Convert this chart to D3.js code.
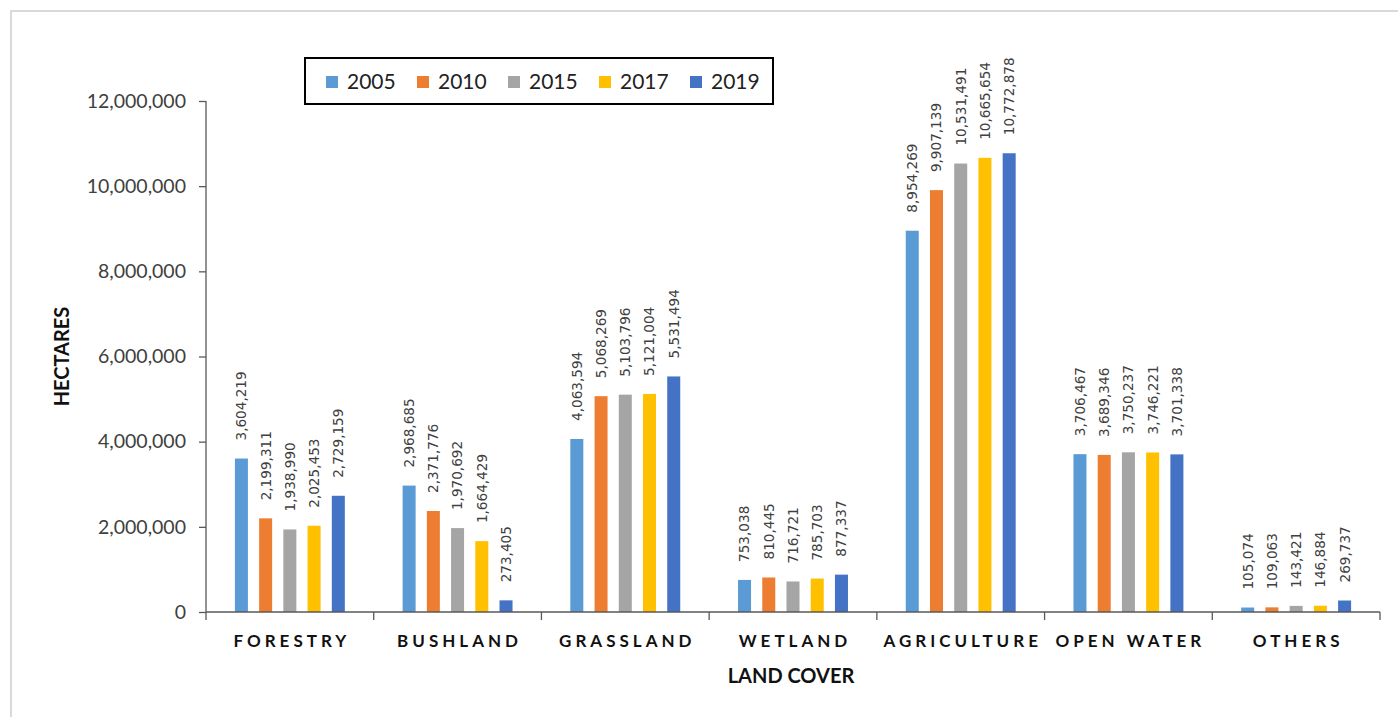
<!DOCTYPE html>
<html>
<head>
<meta charset="utf-8">
<script src="https://cdn.jsdelivr.net/npm/d3@7"></script>
<style>
  html, body { margin: 0; padding: 0; background: #fff; }
  svg { display: block; }
</style>
</head>
<body>
<svg id="chart" width="1398" height="717"></svg>
<script>
// ---- Data ----
const categories = ["FORESTRY", "BUSHLAND", "GRASSLAND", "WETLAND", "AGRICULTURE", "OPEN WATER", "OTHERS"];
const years = ["2005", "2010", "2015", "2017", "2019"];
const values2005 = [3604219, 2968685, 4063594, 753038, 8954269, 3706467, 105074];
const values2010 = [2199311, 2371776, 5068269, 810445, 9907139, 3689346, 109063];
const values2015 = [1938990, 1970692, 5103796, 716721, 10531491, 3750237, 143421];
const values2017 = [2025453, 1664429, 5121004, 785703, 10665654, 3746221, 146884];
const values2019 = [2729159, 273405, 5531494, 877337, 10772878, 3701338, 269737];
const yTicks = [0, 2000000, 4000000, 6000000, 8000000, 10000000, 12000000];
const colors = ["#5B9BD5", "#ED7D31", "#A5A5A5", "#FFC000", "#4472C4"];
const yTitle = "HECTARES";
const xTitle = "LAND COVER";

const seriesValues = [values2005, values2010, values2015, values2017, values2019];
const rows = [];
categories.forEach((c, i) => years.forEach((yr, j) => rows.push({cat: c, year: yr, value: seriesValues[j][i], color: colors[j]})));

// ---- Layout ----
const svg = d3.select("#chart");
const pL = 206, pR = 1380, pT = 101, pB = 612;
const fmt = d3.format(",");

// outer chart border
svg.append("rect").attr("x", 11).attr("y", 11).attr("width", 1420).attr("height", 740)
  .attr("fill", "none").attr("stroke", "#d9d9d9").attr("stroke-width", 2);

const x0 = d3.scaleBand().domain(categories).range([pL, pR]).padding(0);
const groupPad = 23.3;
const x1 = d3.scaleBand().domain(years).range([groupPad, x0.bandwidth() - groupPad]).paddingInner(0.463).paddingOuter(0.231);
const y = d3.scaleLinear().domain([0, 12000000]).range([pB, pT]);

// bars
svg.append("g").selectAll("rect").data(rows).join("rect")
  .attr("x", d => x0(d.cat) + x1(d.year))
  .attr("y", d => y(d.value))
  .attr("width", x1.bandwidth())
  .attr("height", d => pB - y(d.value))
  .attr("fill", d => d.color);

// data labels
svg.append("g").selectAll("text").data(rows).join("text")
  .attr("transform", d => `translate(${x0(d.cat) + x1(d.year) + x1.bandwidth() / 2},${y(d.value) - 18}) rotate(-90)`)
  .attr("dy", "0.36em")
  .attr("text-anchor", "start")
  .attr("font-family", "DejaVu Sans, sans-serif")
  .attr("font-size", "13.6px")
  .attr("fill", "#404040")
  .text(d => fmt(d.value));

// y axis
const yAxis = d3.axisLeft(y).tickValues(yTicks).tickFormat(fmt).tickSize(7).tickPadding(13);
const gy = svg.append("g").attr("transform", `translate(${pL},0)`).call(yAxis);
gy.select(".domain").attr("stroke", "#595959").attr("stroke-width", 1.3).attr("d", `M0,${pT}V${pB}`);
gy.selectAll(".tick line").attr("stroke", "#595959").attr("stroke-width", 1.3);
gy.selectAll(".tick text").attr("font-family", "Lato, sans-serif").attr("font-size", "19.5px").attr("fill", "#404040");

// x axis
const xAxis = d3.axisBottom(x0).tickSize(0).tickPadding(0);
const gx = svg.append("g").attr("transform", `translate(0,${pB})`).call(xAxis);
gx.select(".domain").attr("stroke", "#595959").attr("stroke-width", 1.3).attr("d", `M${pL},0H${pR}`);
gx.selectAll(".tick text")
  .attr("y", 35)
  .attr("dy", 0)
  .attr("dx", 2)
  .attr("font-family", "Lato, sans-serif")
  .attr("font-weight", "bold")
  .attr("font-size", "17px")
  .attr("letter-spacing", "4px")
  .attr("fill", "#111");
// category boundary ticks
const bounds = categories.map(c => x0(c)).concat([pR]);
gx.append("g").selectAll("line").data(bounds).join("line")
  .attr("x1", d => d).attr("x2", d => d).attr("y1", 0).attr("y2", 8)
  .attr("stroke", "#595959").attr("stroke-width", 1.3);

// axis titles
svg.append("text")
  .attr("transform", `translate(69,${(pT + pB) / 2}) rotate(-90)`)
  .attr("text-anchor", "middle")
  .attr("font-family", "Lato, sans-serif").attr("font-weight", "bold").attr("font-size", "20px")
  .attr("fill", "#111")
  .text(yTitle);
svg.append("text")
  .attr("x", (pL + pR) / 2 - 2).attr("y", 683)
  .attr("text-anchor", "middle")
  .attr("font-family", "Lato, sans-serif").attr("font-weight", "bold").attr("font-size", "20px")
  .attr("fill", "#111")
  .text(xTitle);

// legend
const lg = svg.append("g");
lg.append("rect").attr("x", 305).attr("y", 58).attr("width", 468).attr("height", 46)
  .attr("fill", "#fff").attr("stroke", "#000").attr("stroke-width", 2);
const legendX = d3.scalePoint().domain(years).range([326, 690]);
const items = lg.selectAll("g.item").data(years).join("g").attr("class", "item")
  .attr("transform", d => `translate(${legendX(d)},0)`);
items.append("rect").attr("x", 0).attr("y", 76).attr("width", 12).attr("height", 12)
  .attr("fill", (d, i) => colors[i]);
items.append("text").attr("x", 21).attr("y", 89)
  .attr("font-family", "Lato, sans-serif").attr("font-size", "21px").attr("fill", "#222")
  .text(d => d);
</script>
</body>
</html>
